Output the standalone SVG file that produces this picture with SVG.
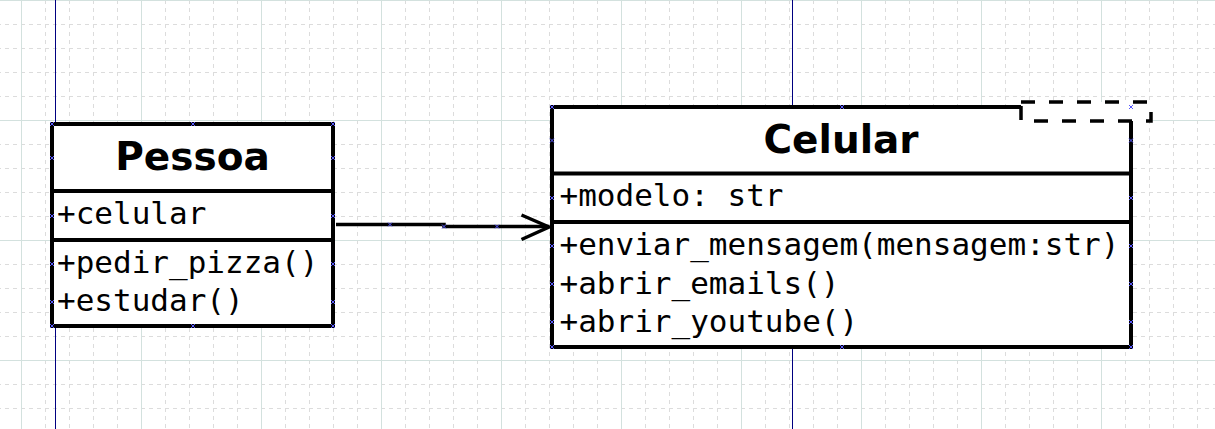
<svg xmlns="http://www.w3.org/2000/svg" xmlns:xlink="http://www.w3.org/1999/xlink" width="1215" height="429" viewBox="0 0 1215 429">
<style>
.box{fill:#fff;stroke:#000;stroke-width:4}
.div{stroke:#000;stroke-width:4;fill:none}
.title{font-family:"DejaVu Sans","Liberation Sans",sans-serif;font-weight:bold;font-size:39px;fill:#000;text-anchor:middle}
.mono{font-family:"DejaVu Sans Mono","Liberation Mono",monospace;font-size:31px;fill:#000}
.guide{stroke:#000080;stroke-width:1;fill:none}
.conn{stroke:#000;stroke-width:3.5;fill:none}
</style>
<defs>
<pattern id="minor" x="21" y="0" width="24" height="24" patternUnits="userSpaceOnUse">
<path d="M0.5,0 V24 M0,0.5 H24" stroke="#dcdcdc" stroke-width="1" stroke-dasharray="4 4" fill="none"/>
</pattern>
<pattern id="major" x="21" y="0" width="120" height="120" patternUnits="userSpaceOnUse">
<path d="M0.5,0 V120 M0,0.5 H120" stroke="#d3e1de" stroke-width="1" fill="none"/>
</pattern>
<path id="mk" d="M-2,-2 L2,2 M-2,2 L2,-2" stroke="#5a5aff" stroke-width="1" fill="none"/>
</defs>
<rect width="1215" height="429" fill="#fff"/>
<rect width="1215" height="429" fill="url(#minor)"/>
<rect width="1215" height="429" fill="url(#major)"/>
<g id="guides">
<path class="guide" d="M55.5,0 V429 M792.5,0 V429"/>
</g>
<g id="connectors">
<path class="conn" d="M336,224.5 H444 V226.5 H549"/>
<path class="conn" d="M521.5,215 L549,227 L521.5,239.5"/>
<use xlink:href="#mk" x="390" y="224.5"/>
<use xlink:href="#mk" x="444" y="226.5"/>
<use xlink:href="#mk" x="497" y="226.5"/>
</g>
<g id="Pessoa">
<rect class="box" x="52" y="124" width="281" height="202"/>
<path class="div" d="M52,191 H333 M52,240 H333"/>
<text class="title" x="192.5" y="170">Pessoa</text>
<text class="mono" x="57" y="224">+celular</text>
<text class="mono" x="57" y="272.5">+pedir_pizza()</text>
<text class="mono" x="57" y="311">+estudar()</text>
<use xlink:href="#mk" x="52" y="124"/><use xlink:href="#mk" x="193" y="124"/><use xlink:href="#mk" x="333" y="124"/>
<use xlink:href="#mk" x="52" y="158"/><use xlink:href="#mk" x="333" y="158"/>
<use xlink:href="#mk" x="52" y="216"/><use xlink:href="#mk" x="333" y="216"/>
<use xlink:href="#mk" x="52" y="264"/><use xlink:href="#mk" x="333" y="264"/>
<use xlink:href="#mk" x="52" y="302"/><use xlink:href="#mk" x="333" y="302"/>
<use xlink:href="#mk" x="52" y="326"/><use xlink:href="#mk" x="193" y="326"/><use xlink:href="#mk" x="333" y="326"/>
</g>
<g id="Celular">
<rect class="box" x="552" y="107" width="579" height="240"/>
<path class="div" d="M552,173.5 H1131 M552,222 H1131"/>
<text class="title" x="841" y="152.5">Celular</text>
<text class="mono" x="559.5" y="206">+modelo: str</text>
<text class="mono" x="559.5" y="255">+enviar_mensagem(mensagem:str)</text>
<text class="mono" x="559.5" y="293.5">+abrir_emails()</text>
<text class="mono" x="559.5" y="332">+abrir_youtube()</text>
<rect x="1021" y="102" width="130" height="19" fill="#fff" stroke="#000" stroke-width="3.5" stroke-dasharray="14 14"/>
<use xlink:href="#mk" x="552" y="107"/><use xlink:href="#mk" x="842" y="107"/><use xlink:href="#mk" x="1131" y="107"/>
<use xlink:href="#mk" x="552" y="140.5"/><use xlink:href="#mk" x="1131" y="140.5"/>
<use xlink:href="#mk" x="552" y="198"/><use xlink:href="#mk" x="1131" y="198"/>
<use xlink:href="#mk" x="552" y="246"/><use xlink:href="#mk" x="1131" y="246"/>
<use xlink:href="#mk" x="552" y="284"/><use xlink:href="#mk" x="1131" y="284"/>
<use xlink:href="#mk" x="552" y="322"/><use xlink:href="#mk" x="1131" y="322"/>
<use xlink:href="#mk" x="552" y="347"/><use xlink:href="#mk" x="842" y="347"/><use xlink:href="#mk" x="1131" y="347"/>
</g>
</svg>
